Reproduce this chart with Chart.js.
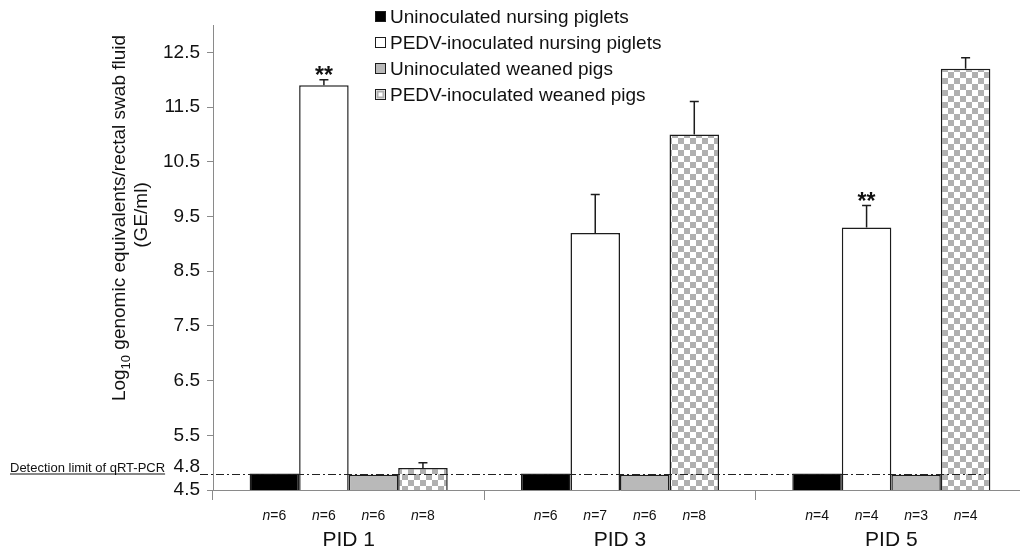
<!DOCTYPE html>
<html><head><meta charset="utf-8">
<script src="https://cdn.jsdelivr.net/npm/chart.js@4.4.0/dist/chart.umd.min.js"></script>
<style>
html,body{margin:0;padding:0;background:#fff;overflow:hidden;}
#wrap{width:1027px;height:553px;position:relative;}
canvas{display:block;}
</style></head><body>
<div id="wrap"><canvas id="c" width="1027" height="553"></canvas></div>
<script>
// ---- data ----
const categories = ['PID 1', 'PID 3', 'PID 5'];
const seriesNames = ['Uninoculated nursing piglets', 'PEDV-inoculated nursing piglets', 'Uninoculated weaned pigs', 'PEDV-inoculated weaned pigs'];
const uninocNursing = [4.8, 4.8, 4.8];
const inocNursing = [11.9, 9.2, 9.3];
const uninocWeaned = [4.78, 4.78, 4.78];
const inocWeaned = [4.9, 11.0, 12.2];
const errUninocNursing = [0, 0, 0];
const errInocNursing = [0.1, 0.7, 0.4];
const errUninocWeaned = [0, 0, 0];
const errInocWeaned = [0.1, 0.6, 0.2];
const nUninocNursing = [6, 6, 4];
const nInocNursing = [6, 7, 4];
const nUninocWeaned = [6, 6, 3];
const nInocWeaned = [8, 8, 4];
const sigUninocNursing = ['', '', ''];
const sigInocNursing = ['**', '', '**'];
const sigUninocWeaned = ['', '', ''];
const sigInocWeaned = ['', '', ''];
const yTickValues = [4.5, 5.5, 6.5, 7.5, 8.5, 9.5, 10.5, 11.5, 12.5];
const detectionLimit = 4.8;
const detectionLabel = 'Detection limit of qRT-PCR';
const yTitleMain = 'Log';
const yTitleSub = '10';
const yTitleRest = ' genomic equivalents/rectal swab fluid';
const yTitleLine2 = '(GE/ml)';

const FONT = "'Liberation Sans', Arial, Helvetica, sans-serif";
const DARK = '#1c1c1c';
const AXIS = '#8a8a8a';
const GRAY = '#b9b9b9';

// checker pattern
function makeChecker() {
  const c = document.createElement('canvas');
  c.width = 12; c.height = 12;
  const x = c.getContext('2d');
  x.fillStyle = '#ffffff'; x.fillRect(0, 0, 12, 12);
  x.fillStyle = '#b0b0b0';
  x.fillRect(0, 0, 6, 6); x.fillRect(6, 6, 6, 6);
  return document.getElementById('c').getContext('2d').createPattern(c, 'repeat');
}
const checker = makeChecker();

const values = [uninocNursing, inocNursing, uninocWeaned, inocWeaned];
const errors = [errUninocNursing, errInocNursing, errUninocWeaned, errInocWeaned];
const nCounts = [nUninocNursing, nInocNursing, nUninocWeaned, nInocWeaned];
const sigs = [sigUninocNursing, sigInocNursing, sigUninocWeaned, sigInocWeaned];
const fills = ['#000000', '#ffffff', GRAY, checker];

const datasets = seriesNames.map((name, i) => ({
  label: name,
  data: values[i],
  backgroundColor: fills[i],
  borderColor: DARK,
  borderWidth: 1.5,
  borderSkipped: false,
  categoryPercentage: 0.73,
  barPercentage: 1.0
}));

const annot = {
  id: 'annot',
  afterDatasetsDraw(chart) {
    const ctx = chart.ctx;
    const y = chart.scales.y;
    ctx.save();
    datasets.forEach((ds, i) => {
      const meta = chart.getDatasetMeta(i);
      meta.data.forEach((el, j) => {
        const v = values[i][j];
        const e = errors[i][j];
        let topY = el.y;
        if (e > 0) {
          const ey = y.getPixelForValue(v + e);
          ctx.strokeStyle = DARK; ctx.lineWidth = 1.5;
          ctx.beginPath();
          ctx.moveTo(el.x, el.y); ctx.lineTo(el.x, ey);
          ctx.moveTo(el.x - 4.5, ey); ctx.lineTo(el.x + 4.5, ey);
          ctx.stroke();
          topY = ey;
        }
        if (sigs[i][j]) {
          ctx.fillStyle = '#111';
          ctx.font = 'bold 23px ' + FONT;
          ctx.textAlign = 'center'; ctx.textBaseline = 'alphabetic';
          ctx.fillText(sigs[i][j], el.x, topY + 3);
        }
        const nTxt = 'n';
        const rest = '=' + nCounts[i][j];
        ctx.fillStyle = '#111';
        ctx.textBaseline = 'alphabetic'; ctx.textAlign = 'left';
        ctx.font = 'italic 14px ' + FONT;
        const w1 = ctx.measureText(nTxt).width;
        ctx.font = '14px ' + FONT;
        const w2 = ctx.measureText(rest).width;
        const sx = el.x - (w1 + w2) / 2;
        ctx.font = 'italic 14px ' + FONT;
        ctx.fillText(nTxt, sx, 520);
        ctx.font = '14px ' + FONT;
        ctx.fillText(rest, sx + w1, 520);
      });
    });
    // detection limit dash-dot line
    const dy = Math.round(y.getPixelForValue(detectionLimit)) + 0.5;
    ctx.strokeStyle = '#222'; ctx.lineWidth = 1.2;
    ctx.setLineDash([8, 3, 2, 3]);
    ctx.beginPath(); ctx.moveTo(200, dy); ctx.lineTo(986, dy); ctx.stroke();
    ctx.setLineDash([]);
    // 4.8 label
    ctx.fillStyle = '#111';
    ctx.font = '19px ' + FONT;
    ctx.textAlign = 'right'; ctx.textBaseline = 'middle';
    ctx.fillText(String(detectionLimit), 200, dy - 8);
    // detection limit text
    ctx.font = '13px ' + FONT;
    ctx.textAlign = 'left'; ctx.textBaseline = 'alphabetic';
    ctx.fillText(detectionLabel, 10, dy - 3);
    const tw = ctx.measureText(detectionLabel).width;
    ctx.strokeStyle = '#111'; ctx.lineWidth = 1;
    ctx.beginPath(); ctx.moveTo(10, dy - 0.5); ctx.lineTo(10 + tw, dy - 0.5); ctx.stroke();

    // y title
    ctx.save();
    ctx.translate(0, 218);
    ctx.rotate(-Math.PI / 2);
    ctx.fillStyle = '#111';
    ctx.textBaseline = 'alphabetic'; ctx.textAlign = 'left';
    ctx.font = '19px ' + FONT;
    const a = ctx.measureText(yTitleMain).width;
    const c2 = ctx.measureText(yTitleRest).width;
    ctx.font = '13px ' + FONT;
    const b = ctx.measureText(yTitleSub).width;
    const total = a + b + c2;
    const u = -total / 2;
    ctx.font = '19px ' + FONT;
    ctx.fillText(yTitleMain, u, 125);
    ctx.font = '13px ' + FONT;
    ctx.fillText(yTitleSub, u + a, 130);
    ctx.font = '19px ' + FONT;
    ctx.fillText(yTitleRest, u + a + b, 125);
    ctx.textAlign = 'center';
    ctx.fillText(yTitleLine2, 3, 147);
    ctx.restore();

    // legend
    ctx.font = '19px ' + FONT;
    ctx.textAlign = 'left'; ctx.textBaseline = 'middle';
    seriesNames.forEach((name, i) => {
      const cy = 17 + i * 26;
      const bx = 375.5, by = cy - 5.5, s = 10;
      if (i === 3) {
        ctx.fillStyle = '#ffffff'; ctx.fillRect(bx, by, s, s);
        ctx.strokeStyle = '#b0b0b0'; ctx.lineWidth = 2;
        ctx.strokeRect(bx + 2, by + 2, s - 4, s - 4);
      } else {
        ctx.fillStyle = i === 0 ? '#000' : (i === 1 ? '#fff' : GRAY);
        ctx.fillRect(bx, by, s, s);
      }
      ctx.strokeStyle = DARK; ctx.lineWidth = 1;
      ctx.strokeRect(bx, by, s, s);
      ctx.fillStyle = '#111';
      ctx.fillText(name, 390, cy + 1);
    });
    ctx.restore();
  }
};

new Chart(document.getElementById('c'), {
  type: 'bar',
  data: { labels: categories, datasets },
  options: {
    responsive: false,
    animation: false,
    devicePixelRatio: 1,
    layout: { padding: { top: 25, left: 0, right: 0, bottom: 0 } },
    plugins: { legend: { display: false }, tooltip: { enabled: false } },
    scales: {
      x: {
        offset: true,
        grid: { offset: true, drawOnChartArea: false, drawTicks: true, tickLength: 10, color: AXIS, lineWidth: 1 },
        border: { display: true, color: AXIS, width: 1 },
        ticks: { color: '#111', font: { family: FONT, size: 21 }, padding: 28 },
        afterFit(s) { s.height = 63; }
      },
      y: {
        min: 4.5, max: 13, beginAtZero: false,
        afterBuildTicks(s) { s.ticks = yTickValues.map(v => ({ value: v })); },
        grid: { drawOnChartArea: false, drawTicks: true, tickLength: 6, color: AXIS, lineWidth: 1 },
        border: { display: true, color: AXIS, width: 1 },
        ticks: { color: '#111', font: { family: FONT, size: 19 }, padding: 7, callback: v => String(v) },
        afterFit(s) { s.width = 213; }
      }
    }
  },
  plugins: [annot]
});
</script>
</body></html>
